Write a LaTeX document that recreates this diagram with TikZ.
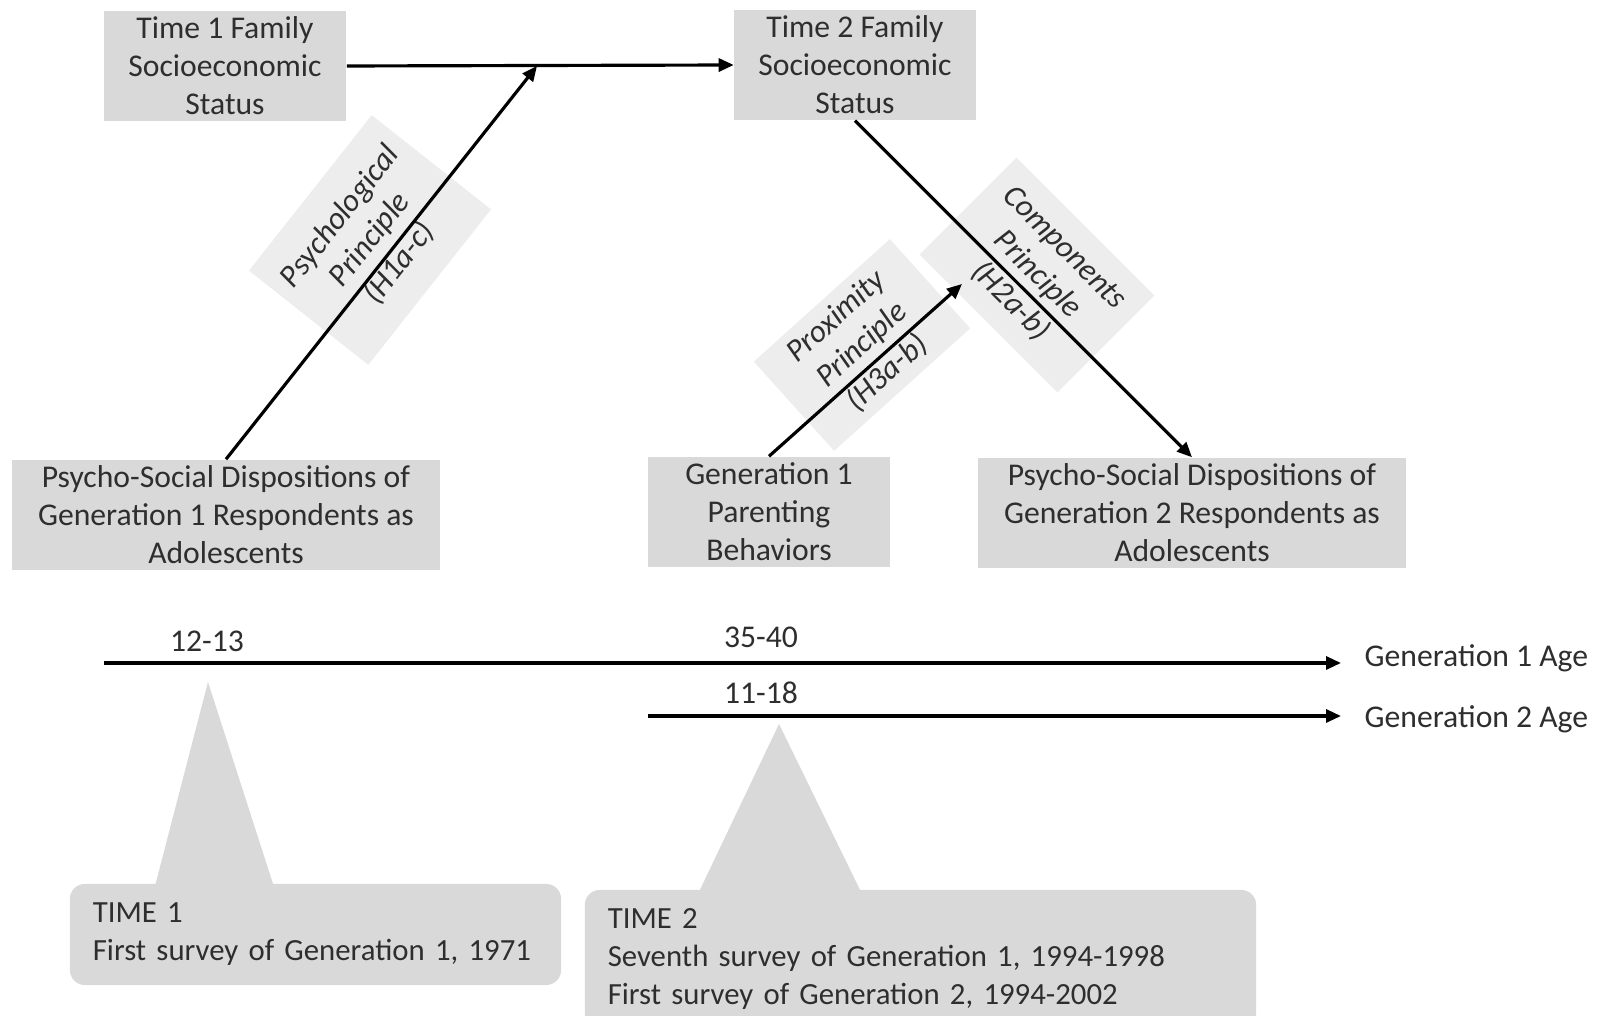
\documentclass[tikz,border=0pt]{standalone}
\usepackage{fontspec}
\setmainfont{Carlito}
\usetikzlibrary{arrows.meta}
\definecolor{boxgray}{gray}{0.85}
\definecolor{labelgray}{gray}{0.93}
\definecolor{textgray}{gray}{0.18}
\begin{document}
\begin{tikzpicture}[x=0.01cm,y=-0.01cm,font=\fontsize{9}{10.8}\selectfont,text=textgray,
    box/.style={fill=boxgray,align=center,inner sep=0pt,minimum height=1.1cm},
    lbl/.style={fill=labelgray,align=center,inner sep=0pt,font=\fontsize{9}{10.8}\selectfont\itshape},
    callout/.style={fill=boxgray,rounded corners=0.15cm,align=left,inner xsep=0.23cm,inner ysep=0pt,font=\fontsize{8.75}{10.8}\selectfont},
    arr/.style={line width=0.9pt,-{Triangle[length=0.15cm,width=0.13cm]}}]
        \useasboundingbox (0,0) rectangle (1608,1016);
        \node[box,minimum width=2.42cm] (t1) at (225,66) {Time 1 Family\\Socioeconomic\\Status};
        \node[box,minimum width=2.41cm] (t2) at (855,65) {Time 2 Family\\Socioeconomic\\Status};
        \node[box,minimum width=4.28cm] (ps1) at (226,515) {Psycho-Social Dispositions of\\Generation 1 Respondents as\\Adolescents};
        \node[box,minimum width=2.41cm] (par) at (769,512) {Generation 1\\Parenting\\Behaviors};
        \node[box,minimum width=4.28cm] (ps2) at (1192,513) {Psycho-Social Dispositions of\\Generation 2 Respondents as\\Adolescents};
        \node[lbl,rotate=51.7,minimum width=1.98cm,minimum height=1.52cm] (psy) at (370,240) {Psychological\\Principle\\(H1a-c)};
        \node[lbl,rotate=42,minimum width=1.83cm,minimum height=1.2cm] (prox) at (862,345) {Proximity\\Principle\\(H3a-b)};
        \node[lbl,rotate=-45,minimum width=1.95cm,minimum height=1.37cm] (comp) at (1037,275) {Components\\Principle\\(H2a-b)};
        \coordinate (j1) at (537,66);
        \coordinate (j2) at (962,284);
        \path[draw,arr] (t1.east) -- (t2.west);
        \path[draw,arr] (ps1.north) -- (j1);
        \path[draw,arr] (t2.south) -- (ps2.north);
        \path[draw,arr] (par.north) -- (j2);
        \coordinate (a1) at (104,663);
        \coordinate (a2) at (648,716);
        \node[anchor=west,inner xsep=0.23cm] (g1) at (1341,658) {Generation 1 Age};
        \node[anchor=west,inner xsep=0.23cm] (g2) at (1341,719) {Generation 2 Age};
        \path[draw,arr] (a1) -- (a1 -| g1.west);
        \path[draw,arr] (a2) -- (a2 -| g2.west);
        \node (n1) at (207,641) {12-13};
        \node (n2) at (761,637) {35-40};
        \node (n3) at (761,693) {11-18};
        \fill[boxgray] (208,682) -- (275,890) -- (154,890) -- cycle;
        \fill[boxgray] (779,724) -- (863,896) -- (697,896) -- cycle;
        \node[callout,text width=4.45cm,minimum height=1.01cm] (c1) at (315.5,934.5) {TIME 1\\First survey of Generation 1, 1971};
        \node[callout,text width=6.25cm,minimum height=1.38cm] (c2) at (920.5,959) {TIME 2\\Seventh survey of Generation 1, 1994-1998\\First survey of Generation 2, 1994-2002};
\end{tikzpicture}
\end{document}
